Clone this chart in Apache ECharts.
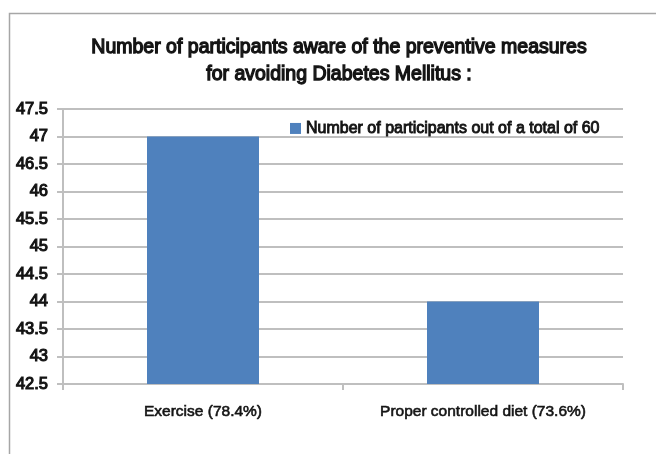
<!DOCTYPE html>
<html><head><meta charset="utf-8">
<script src="https://cdn.jsdelivr.net/npm/echarts@6/dist/echarts.min.js"></script>
<style>html,body{margin:0;padding:0;background:#fff}#c{width:656px;height:454px}</style>
</head><body><div id="c"></div>
<script>
var categories = ['Exercise (78.4%)', 'Proper controlled diet (73.6%)'];
var seriesName = 'Number of participants out of a total of 60';
var values = [47, 44];
var yMin = 42.5, yMax = 47.5, yStep = 0.5;
var titleText = 'Number of participants aware of the preventive measures\nfor avoiding Diabetes Mellitus :';

var FONT = '"Liberation Sans Narrow", sans-serif';
var TXT = '#141414';
function boldish(w) { return { textBorderColor: TXT, textBorderWidth: w }; }
var chart = echarts.init(document.getElementById('c'));
chart.setOption({
  animation: false,
  graphic: [{
    type: 'rect', left: 7, top: 11,
    shape: { width: 700, height: 500 },
    style: { fill: 'none', stroke: '#a6a6a6', lineWidth: 1.5 }, z: -1
  }],
  title: {
    text: titleText, left: 334, textAlign: 'center', top: 29,
    textStyle: Object.assign({ fontFamily: FONT, fontSize: 19.5, fontWeight: 'normal', color: TXT, lineHeight: 27 }, boldish(1.3))
  },
  legend: {
    data: [seriesName], left: 285, top: 115, itemWidth: 11, itemHeight: 11, itemGap: 5,
    icon: 'rect',
    textStyle: Object.assign({ fontFamily: FONT, fontSize: 16, color: TXT }, boldish(0.9))
  },
  grid: { left: 63, right: 33, top: 109, bottom: 70 },
  xAxis: {
    type: 'category', data: categories,
    axisLine: { lineStyle: { color: '#bfbfbf', width: 2 } },
    axisTick: { show: true, length: 6, lineStyle: { color: '#bfbfbf', width: 2 } },
    axisLabel: Object.assign({ interval: 0, fontFamily: FONT, fontSize: 15.5, color: TXT, margin: 20 }, boldish(0.6))
  },
  yAxis: {
    type: 'value', min: yMin, max: yMax, interval: yStep,
    axisLine: { show: true, lineStyle: { color: '#bfbfbf', width: 2 } },
    axisTick: { show: true, length: 6, lineStyle: { color: '#bfbfbf', width: 2 } },
    splitLine: { lineStyle: { color: '#bfbfbf', width: 2 } },
    axisLabel: Object.assign({ fontFamily: FONT, fontSize: 16.5, color: TXT, margin: 15 }, boldish(1.1))
  },
  series: [{
    name: seriesName, type: 'bar', data: values, barWidth: '40%',
    itemStyle: { color: '#4f81bd' }
  }]
});
</script></body></html>
